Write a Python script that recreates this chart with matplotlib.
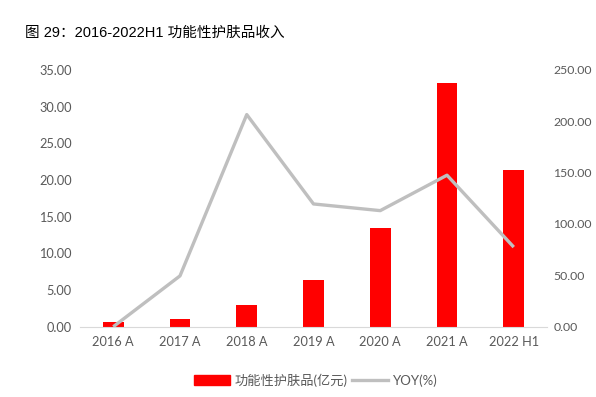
import matplotlib.pyplot as plt
from matplotlib.patches import Patch
from matplotlib.lines import Line2D

plt.rcParams['font.family'] = ['Lato', 'Noto Sans CJK SC', 'DejaVu Sans']

years = ["2016 A", "2017 A", "2018 A", "2019 A", "2020 A", "2021 A", "2022 H1"]
revenue = [0.64, 1.0, 2.92, 6.37, 13.5, 33.25, 21.3]
yoy = [0.0, 49.5, 206.5, 119.5, 113.0, 147.5, 77.5]

grey_txt = "#595959"

fig = plt.figure(figsize=(5.96, 3.97), dpi=100)
ax = fig.add_axes([0.134, 0.177, 0.784, 0.647])
ax2 = ax.twinx()

x = range(len(years))
ax.bar(x, revenue, 0.31, color="#FF0000", zorder=2)
ax2.plot(x, yoy, color="#BFBFBF", linewidth=2.4, solid_capstyle="butt", zorder=3)

ax.set_xlim(-0.5, len(years) - 0.5)
ax.set_ylim(0, 35)
ax.set_yticks([0, 5, 10, 15, 20, 25, 30, 35])
ax.set_yticklabels(["%.2f" % v for v in ax.get_yticks()])
ax2.set_ylim(0, 250)
ax2.set_yticks([0, 50, 100, 150, 200, 250])
ax2.set_yticklabels(["%.2f" % v for v in ax2.get_yticks()])
ax.set_xticks(list(x))
ax.set_xticklabels(years)

for a in (ax, ax2):
    for s in a.spines.values():
        s.set_visible(False)
    a.tick_params(length=0, labelsize=9.2, colors=grey_txt)
ax.spines["bottom"].set_visible(True)
ax.spines["bottom"].set_color("#D9D9D9")
ax.tick_params(axis="y", pad=6)
ax.tick_params(axis="x", pad=7)
ax2.tick_params(axis="y", labelsize=8.8, pad=4.5)

fig.text(0.042, 0.917, "图 29：2016-2022H1 功能性护肤品收入", fontsize=10.5,
         color="black", va="center",
         family=['Liberation Sans', 'Noto Sans CJK SC'])

handles = [Patch(color="#FF0000"),
           Line2D([0], [0], color="#BFBFBF", linewidth=2.4)]
fig.legend(handles, ["功能性护肤品(亿元)", "YOY(%)"], loc="center",
           bbox_to_anchor=(0.53, 0.043), ncol=2, frameon=False, fontsize=9.5,
           labelcolor=grey_txt, handlelength=2.7, handletextpad=0.4,
           columnspacing=0.3)

plt.savefig("out.png", dpi=100)
